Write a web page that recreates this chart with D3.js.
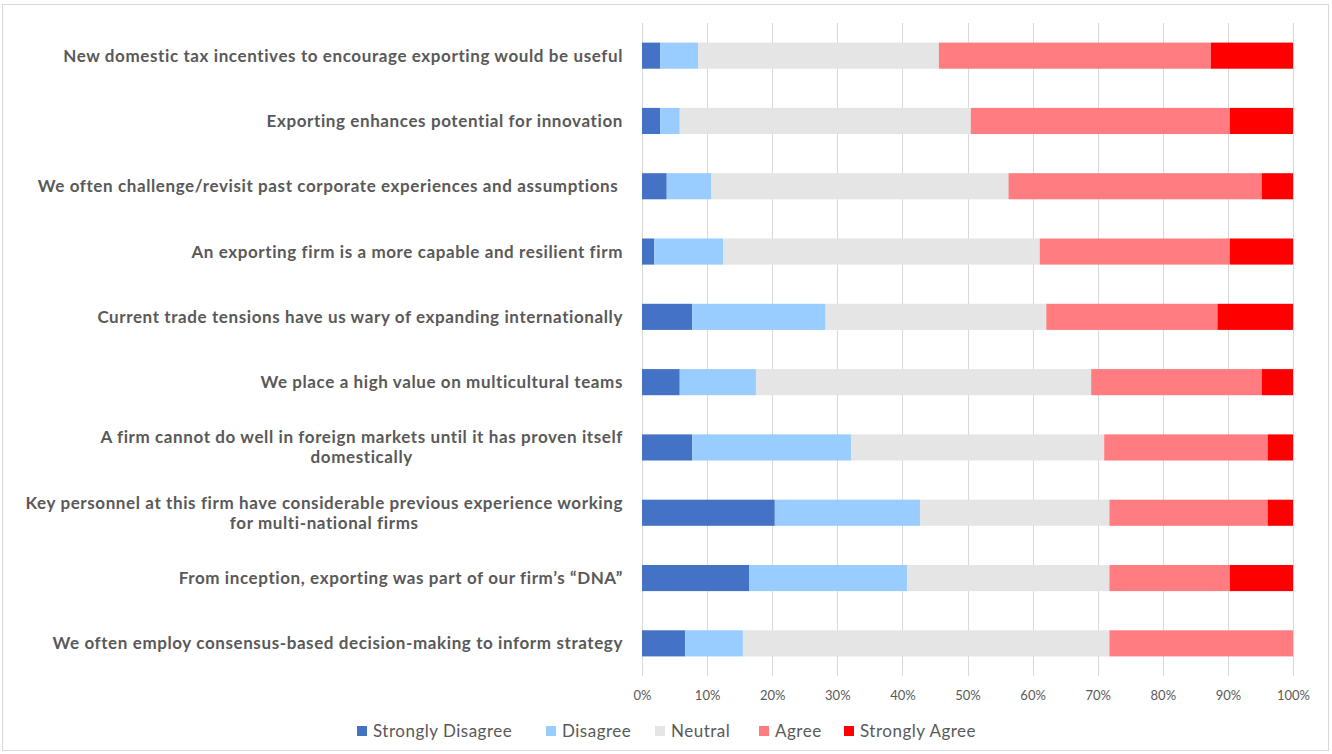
<!DOCTYPE html>
<html><head><meta charset="utf-8">
<script src="https://cdn.jsdelivr.net/npm/d3@7"></script>
<style>
body{margin:0;background:#fff;}
text{font-family:Lato,"Open Sans",sans-serif;}
</style></head>
<body><svg id="chart" width="1332" height="754"></svg>
<script>
const categories = [
  "New domestic tax incentives to encourage exporting would be useful",
  "Exporting enhances potential for innovation",
  "We often challenge/revisit past corporate experiences and assumptions ",
  "An exporting firm is a more capable and resilient firm",
  "Current trade tensions have us wary of expanding internationally",
  "We place a high value on multicultural teams",
  "A firm cannot do well in foreign markets until it has proven itself\ndomestically",
  "Key personnel at this firm have considerable previous experience working\nfor multi-national firms",
  "From inception, exporting was part of our firm’s “DNA”",
  "We often employ consensus-based decision-making to inform strategy"
];
const seriesNames = ["Strongly Disagree","Disagree","Neutral","Agree","Strongly Agree"];
const stronglyDisagree = [2.8, 2.8, 3.8, 1.9, 7.7, 5.8, 7.7, 20.4, 16.5, 6.6];
const disagree         = [5.8, 3.0, 6.8, 10.6, 20.5, 11.7, 24.4, 22.3, 24.2, 8.9];
const neutral          = [37.0, 44.7, 45.7, 48.6, 33.9, 51.5, 38.9, 29.1, 31.1, 56.3];
const agree            = [41.8, 39.8, 38.9, 29.2, 26.3, 26.2, 25.1, 24.3, 18.5, 28.2];
const stronglyAgree    = [12.6, 9.7, 4.8, 9.7, 11.6, 4.8, 3.9, 3.9, 9.7, 0];
const tickValues = [0,10,20,30,40,50,60,70,80,90,100];
const colors = ["#4472C4","#99CCFF","#E5E5E5","#FF7C80","#FF0000"];

const svg = d3.select("#chart");
svg.append("rect").attr("x",2.5).attr("y",4.5).attr("width",1326).attr("height",746)
  .attr("fill","#fff").attr("stroke","#d9d9d9").attr("stroke-width",1);

const plotLeft = 642, plotRight = 1293, plotTop = 23, plotBottom = 676;
const x = d3.scaleLinear().domain([0,100]).range([plotLeft,plotRight]);
const y = d3.scaleBand().domain(d3.range(categories.length)).range([plotTop,plotBottom])
  .paddingInner(0.6).paddingOuter(0.3);

// gridlines
svg.append("g").selectAll("line").data(tickValues).join("line")
  .attr("x1",d=>Math.round(x(d))+0.5).attr("x2",d=>Math.round(x(d))+0.5)
  .attr("y1",plotTop).attr("y2",plotBottom).attr("stroke","#d9d9d9").attr("stroke-width",1);

// stacked data
const rows = categories.map((c,i)=>({i, vals:[stronglyDisagree[i],disagree[i],neutral[i],agree[i],stronglyAgree[i]]}));
const stackData = rows.map(r=>{const o={i:r.i}; seriesNames.forEach((s,k)=>o[s]=r.vals[k]); return o;});
const stacked = d3.stack().keys(seriesNames)(stackData);

svg.append("g").selectAll("g").data(stacked).join("g")
  .attr("fill",(d,k)=>colors[k])
  .selectAll("rect").data(d=>d).join("rect")
  .attr("x",d=>x(d[0])).attr("width",d=>Math.max(0,x(d[1])-x(d[0])))
  .attr("y",d=>y(d.data.i)).attr("height",y.bandwidth());

// x axis labels
const axis = d3.axisBottom(x).tickValues(tickValues).tickFormat(d=>d+"%").tickSize(0).tickPadding(0);
const ax = svg.append("g").attr("transform",`translate(0,${plotBottom+20})`).call(axis);
ax.select(".domain").remove();
ax.selectAll("text").attr("fill","#595959").style("font-size","13px")
  .style("font-family","Lato,sans-serif").attr("dy","0.32em");

// category labels
const labelRight = 623;
const lg = svg.append("g");
categories.forEach((c,i)=>{
  const lines = c.split("\n");
  const cy = y(i)+y.bandwidth()/2;
  const lh = 20;
  const t = lg.append("text").attr("fill","#595959").style("font-size","17px")
    .style("font-weight","bold").style("letter-spacing","0.6px").style("white-space","pre");
  const spans = lines.map((ln,j)=>t.append("tspan").text(ln)
      .attr("y",cy+(j-(lines.length-1)/2)*lh).attr("dy","0.35em"));
  const widths = spans.map(s=>s.node().getComputedTextLength());
  const maxW = d3.max(widths);
  spans.forEach((s,j)=>s.attr("x",labelRight-maxW/2).attr("text-anchor","middle"));
});

// legend
const legendItems = [
  {name:"Strongly Disagree", x:357},
  {name:"Disagree", x:546},
  {name:"Neutral", x:655},
  {name:"Agree", x:759},
  {name:"Strongly Agree", x:844}
];
const leg = svg.append("g");
legendItems.forEach((it,k)=>{
  leg.append("rect").attr("x",it.x).attr("y",726).attr("width",10).attr("height",10).attr("fill",colors[k]);
  leg.append("text").attr("x",it.x+16).attr("y",731).attr("dy","0.35em")
    .attr("fill","#595959").style("font-size","17px").style("letter-spacing","0.5px").text(it.name);
});
</script></body></html>
